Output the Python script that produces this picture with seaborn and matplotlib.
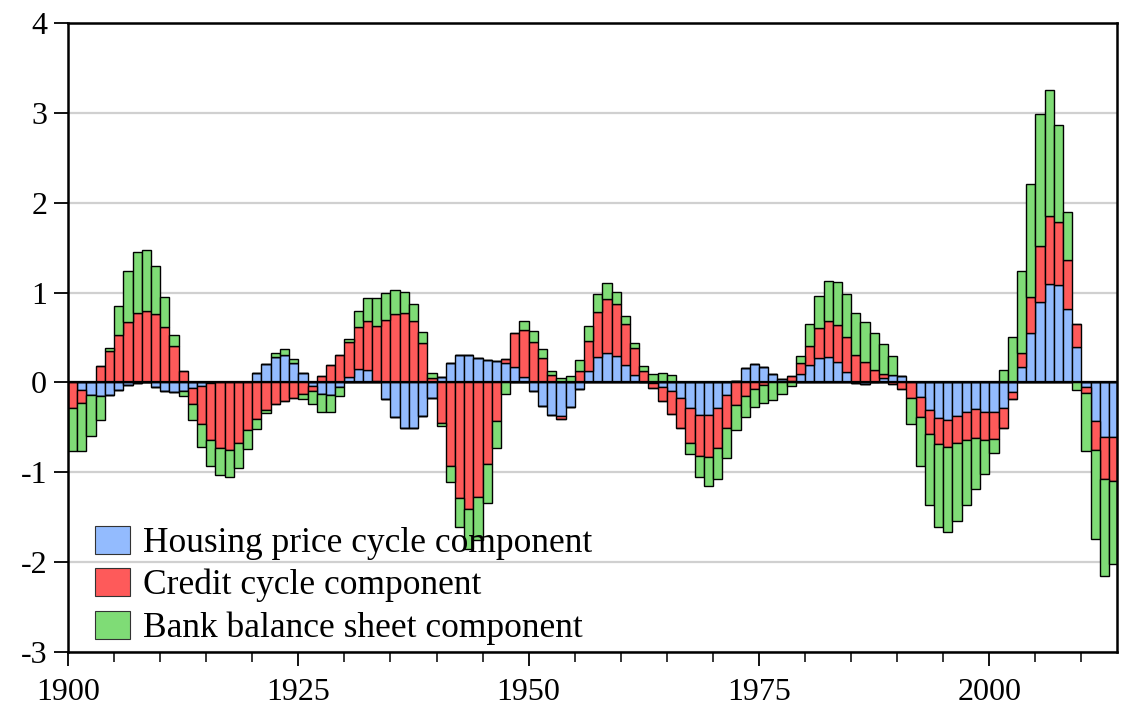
import numpy as np
import pandas as pd
import seaborn as sns
import matplotlib.pyplot as plt
from matplotlib.ticker import MultipleLocator

## ==============================
## data
years = list(range(1900, 2014))

housing = [
    0.00, -0.08, -0.14, -0.155, -0.14, -0.085, -0.03, -0.01, 0.00, -0.05,      # 1900-1909
    -0.09, -0.11, -0.10, -0.067, -0.035, -0.01, 0.00, 0.00, 0.00, 0.00,        # 1910-1919
    0.10, 0.20, 0.28, 0.30, 0.22, 0.10, -0.04, -0.13, -0.14, -0.055,           # 1920-1929
    0.063, 0.15, 0.14, 0.02, -0.18, -0.39, -0.51, -0.51, -0.37, -0.17,         # 1930-1939
    0.063, 0.22, 0.30, 0.30, 0.27, 0.245, 0.235, 0.22, 0.175, 0.063,           # 1940-1949
    -0.093, -0.26, -0.364, -0.37, -0.27, -0.074, 0.126, 0.28, 0.33, 0.295,     # 1950-1959
    0.19, 0.077, 0.00, -0.01, -0.049, -0.10, -0.175, -0.28, -0.36, -0.367,     # 1960-1969
    -0.29, -0.145, 0.02, 0.155, 0.20, 0.17, 0.09, 0.037, 0.02, 0.093,          # 1970-1979
    0.19, 0.275, 0.286, 0.227, 0.115, -0.01, -0.02, 0.00, 0.045, 0.085,        # 1980-1989
    0.074, 0.00, -0.16, -0.31, -0.40, -0.42, -0.37, -0.33, -0.30, -0.33,       # 1990-1999
    -0.33, -0.29, -0.11, 0.175, 0.55, 0.90, 1.10, 1.08, 0.82, 0.39,            # 2000-2009
    -0.056, -0.43, -0.61, -0.61,                                               # 2010-2013
]

credit = [
    -0.28, -0.15, 0.00, 0.185, 0.35, 0.53, 0.67, 0.77, 0.80, 0.76,
    0.62, 0.41, 0.13, -0.17, -0.43, -0.63, -0.73, -0.75, -0.67, -0.53,
    -0.41, -0.305, -0.24, -0.21, -0.175, -0.13, -0.055, 0.067, 0.19, 0.30,
    0.39, 0.47, 0.54, 0.61, 0.70, 0.76, 0.775, 0.68, 0.435, 0.045,
    -0.45, -0.93, -1.285, -1.41, -1.27, -0.91, -0.43, 0.045, 0.38, 0.52,
    0.455, 0.275, 0.077, -0.04, 0.00, 0.126, 0.33, 0.50, 0.60, 0.58,
    0.46, 0.305, 0.125, -0.05, -0.158, -0.25, -0.335, -0.395, -0.455, -0.463,
    -0.44, -0.362, -0.25, -0.155, -0.074, -0.025, 0.00, 0.00, 0.055, 0.125,
    0.22, 0.325, 0.40, 0.41, 0.39, 0.31, 0.23, 0.14, 0.048, -0.015,
    -0.078, -0.17, -0.22, -0.26, -0.29, -0.30, -0.30, -0.31, -0.32, -0.31,
    -0.30, -0.22, -0.074, 0.15, 0.40, 0.62, 0.75, 0.71, 0.54, 0.26,
    -0.063, -0.32, -0.46, -0.49,
]

bank = [
    -0.48, -0.53, -0.46, -0.26, 0.03, 0.32, 0.57, 0.68, 0.67, 0.54,
    0.33, 0.12, -0.055, -0.185, -0.25, -0.29, -0.30, -0.30, -0.28, -0.21,
    -0.11, -0.03, 0.045, 0.067, 0.04, -0.05, -0.14, -0.20, -0.19, -0.10,
    0.03, 0.17, 0.26, 0.31, 0.30, 0.27, 0.23, 0.19, 0.13, 0.055,
    -0.04, -0.18, -0.32, -0.44, -0.48, -0.43, -0.305, -0.13, 0.00, 0.10,
    0.115, 0.095, 0.055, 0.045, 0.067, 0.12, 0.17, 0.20, 0.175, 0.132,
    0.09, 0.058, 0.063, 0.095, 0.104, 0.077, 0.00, -0.123, -0.233, -0.325,
    -0.35, -0.33, -0.285, -0.23, -0.205, -0.205, -0.20, -0.13, -0.037, 0.08,
    0.235, 0.36, 0.44, 0.48, 0.476, 0.465, 0.44, 0.41, 0.34, 0.21,
    0.00, -0.29, -0.55, -0.79, -0.92, -0.94, -0.87, -0.72, -0.565, -0.38,
    -0.156, 0.14, 0.51, 0.91, 1.26, 1.47, 1.40, 1.08, 0.54, -0.08,
    -0.64, -0.99, -1.08, -0.92,
]

labels = ['Housing price cycle component', 'Credit cycle component', 'Bank balance sheet component']
colors = ['#93bbfe', '#fe5a5a', '#7fdc76']

df = pd.DataFrame({'year': years, labels[0]: housing, labels[1]: credit, labels[2]: bank})

## ==============================
## plot
sns.set_style('white')
plt.rcParams['font.family'] = ['Liberation Serif', 'DejaVu Serif']
plt.rcParams['axes.unicode_minus'] = False
plt.rcParams['text.color'] = 'black'

fig = plt.figure(figsize=(11.28, 7.09), dpi=100)
ax = fig.add_axes([0.0603, 0.0804, 0.9299, 0.8872])

# positive parts stack upward, negative parts stack downward
pos_bottom = np.zeros(len(df))
neg_bottom = np.zeros(len(df))
x = df['year'].to_numpy() + 0.5
for lab, col in zip(labels, colors):
    v = df[lab].to_numpy()
    pos = np.where(v > 0, v, 0)
    neg = np.where(v < 0, v, 0)
    ax.bar(x, pos, width=1.0, bottom=pos_bottom, color=col, edgecolor='black', linewidth=1.0, label=lab, zorder=2)
    ax.bar(x, neg, width=1.0, bottom=neg_bottom, color=col, edgecolor='black', linewidth=1.0, zorder=2)
    pos_bottom += pos
    neg_bottom += neg

ax.axhline(0, color='black', linewidth=1.6, zorder=3)

ax.set_xlim(1900, 2013.85)
ax.set_ylim(-3, 4)
ax.set_yticks(range(-3, 5))
ax.set_xticks([1900, 1925, 1950, 1975, 2000])
ax.xaxis.set_minor_locator(MultipleLocator(5))

ax.set_axisbelow(True)
ax.yaxis.grid(True, color='#d0d0d0', linewidth=1.6)
ax.xaxis.grid(False)

for s in ax.spines.values():
    s.set_color('black')
    s.set_linewidth(1.8)

ax.tick_params(axis='both', which='major', labelsize=23, direction='out', length=10, width=1.3,
               colors='black', left=True, bottom=True)
ax.tick_params(axis='x', which='minor', direction='out', length=7, width=1.3, bottom=True)
ax.tick_params(axis='x', pad=9)
ax.tick_params(axis='y', pad=5)

leg = ax.legend(loc='upper left', bbox_to_anchor=(0.0257, 0.201), frameon=False, fontsize=25.5,
                handlelength=1.0, handleheight=0.85, handletextpad=0.35, labelspacing=0.23,
                borderaxespad=0, borderpad=0)
leg.set_zorder(5)
for t in leg.get_texts():
    t.set_color('black')
for h in leg.legend_handles:
    h.set_edgecolor('#333333')
    h.set_linewidth(0.8)

plt.savefig('out.png', dpi=100)
